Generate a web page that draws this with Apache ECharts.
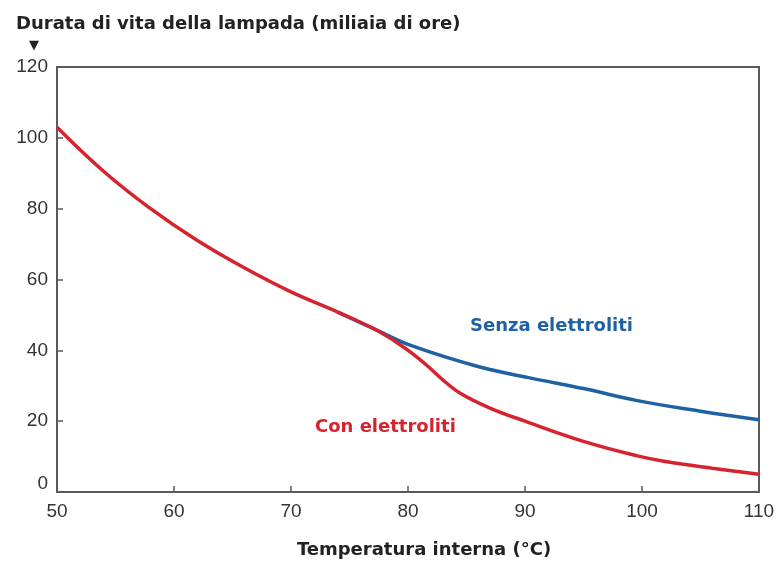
<!DOCTYPE html>
<html>
<head>
<meta charset="utf-8">
<script src="https://cdn.jsdelivr.net/npm/echarts@6/dist/echarts.min.js"></script>
<style>
  html, body { margin: 0; padding: 0; background: #fff; }
  #chart { width: 777px; height: 561px; }
</style>
</head>
<body>
<div id="chart"></div>
<script>
// Temperature (°C) and lamp lifetime (thousands of hours)
const conTemp = [50, 54, 58, 62, 66, 70, 74, 77.2, 79, 80.3, 81.7, 83, 84.5, 87, 90, 95, 99.6, 102, 106, 110];
const conLife = [103, 90.5, 80, 71, 63.3, 56.5, 50.8, 45.9, 42.3, 39.3, 35.5, 31.6, 27.8, 23.7, 20, 14.3, 10.2, 8.6, 6.7, 5];

const senzaTemp = [74, 77.2, 80.3, 85.9, 90.3, 95, 99.6, 105, 110];
const senzaLife = [50.8, 45.9, 41.3, 35.5, 32.3, 29.2, 25.8, 22.8, 20.4];

const xTicks = [50, 60, 70, 80, 90, 100, 110];
const yTicks = [0, 20, 40, 60, 80, 100, 120];

const RED = '#d6232e';
const BLUE = '#1f62a3';
const LABEL_FONT = '"DejaVu Sans", Verdana, sans-serif';
const TICK_FONT = '"Liberation Sans", Arial, sans-serif';

const pairs = (xs, ys) => xs.map((x, i) => [x, ys[i]]);

const chart = echarts.init(document.getElementById('chart'), null, { renderer: 'canvas' });

chart.setOption({
  animation: false,
  backgroundColor: '#ffffff',
  grid: {
    left: 57, right: 18, top: 67, bottom: 69,
    outerBoundsMode: 'none',
    containLabel: false,
    show: true,
    borderColor: '#5a5a5a',
    borderWidth: 2,
    backgroundColor: 'transparent'
  },
  title: [
    {
      text: 'Durata di vita della lampada (miliaia di ore)',
      left: 11, top: 10,
      textStyle: { fontFamily: LABEL_FONT, fontWeight: 'bold', fontSize: 18, color: '#222' }
    },
    {
      text: '▼',
      left: 24, top: 34,
      textStyle: { fontFamily: 'DejaVu Sans', fontSize: 13, color: '#222', fontWeight: 'normal' }
    }
  ],
  xAxis: {
    type: 'value',
    min: xTicks[0], max: xTicks[xTicks.length - 1], interval: 10,
    name: 'Temperatura interna (°C)',
    nameLocation: 'middle',
    nameGap: 49,
    nameTextStyle: {
      fontFamily: LABEL_FONT, fontWeight: 'bold', fontSize: 18, color: '#222',
      padding: [0, 0, 0, 32]
    },
    axisLine: { show: false },
    axisTick: { show: true, inside: true, length: 6, lineStyle: { color: '#5a5a5a', width: 1.5 } },
    axisLabel: { fontFamily: TICK_FONT, fontSize: 19, color: '#333', margin: 10, showMinLabel: true, showMaxLabel: true },
    splitLine: { show: false }
  },
  yAxis: {
    type: 'value',
    min: yTicks[0], max: yTicks[yTicks.length - 1], interval: 20,
    axisLine: { show: false },
    axisTick: { show: true, inside: true, length: 6, lineStyle: { color: '#5a5a5a', width: 1.5 } },
    axisLabel: {
      fontFamily: TICK_FONT, fontSize: 19, color: '#333', margin: 9,
      // the zero label sits slightly above the x axis line
      formatter: v => (v === 0 ? '{zero|0}' : String(v)),
      rich: { zero: { fontFamily: TICK_FONT, fontSize: 19, color: '#333', padding: [0, 0, 16, 0] } }
    },
    splitLine: { show: false }
  },
  series: [
    {
      name: 'Senza elettroliti',
      type: 'line',
      data: pairs(senzaTemp, senzaLife),
      smooth: 0.4,
      showSymbol: false,
      lineStyle: { color: BLUE, width: 3.5 },
      z: 2
    },
    {
      name: 'Con elettroliti',
      type: 'line',
      data: pairs(conTemp, conLife),
      smooth: 0.4,
      showSymbol: false,
      lineStyle: { color: RED, width: 3.5 },
      z: 3
    }
  ],
  graphic: [
    {
      type: 'text',
      left: 470, top: 317,
      style: { text: 'Senza elettroliti', fill: BLUE, font: 'bold 18px ' + LABEL_FONT }
    },
    {
      type: 'text',
      left: 315, top: 418,
      style: { text: 'Con elettroliti', fill: RED, font: 'bold 18px ' + LABEL_FONT }
    }
  ]
});
</script>
</body>
</html>
